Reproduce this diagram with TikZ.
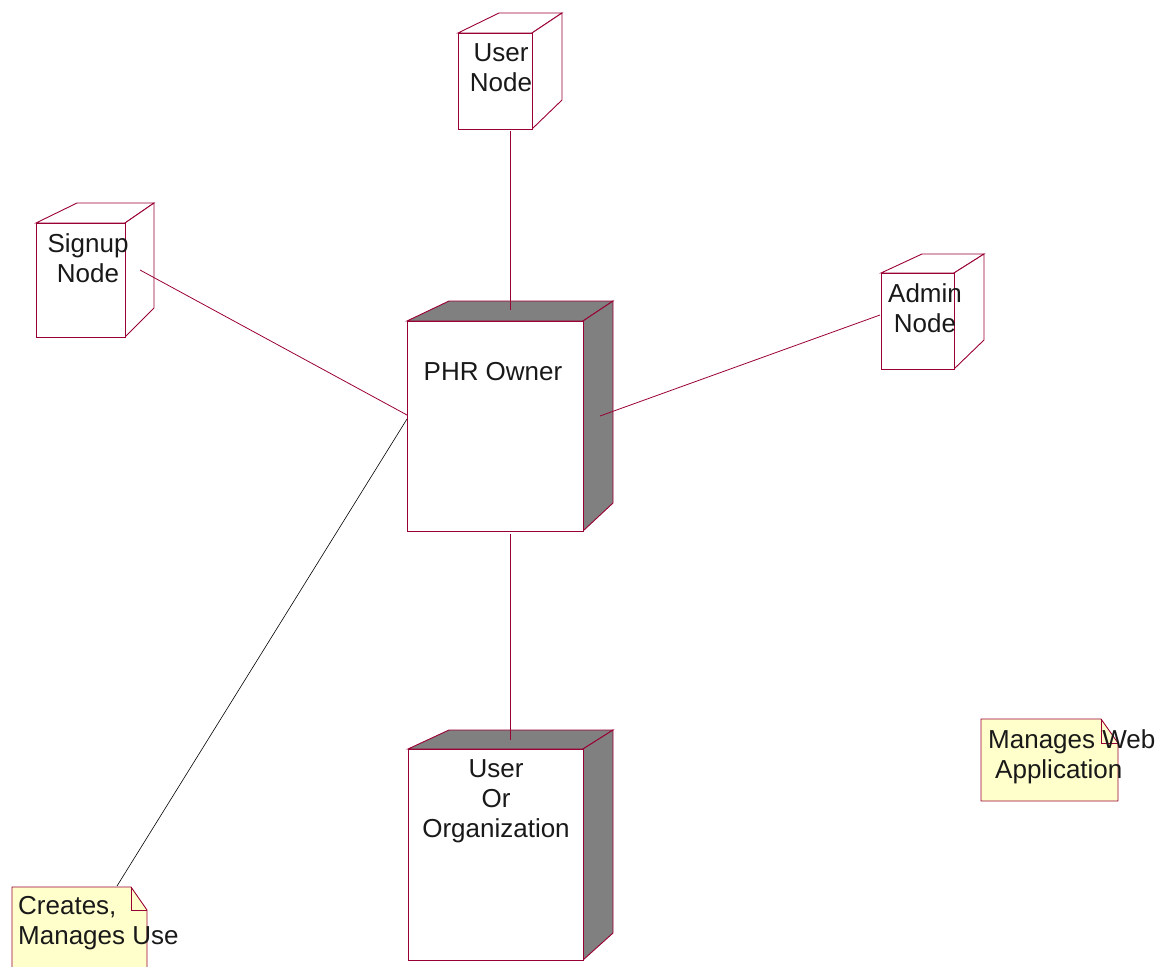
\documentclass[tikz,border=0pt]{standalone}
\usepackage{fontspec}
\setmainfont{Liberation Sans}
\definecolor{roseline}{RGB}{153,0,51}
\definecolor{notefill}{RGB}{255,255,204}
\definecolor{boxshade}{RGB}{128,128,128}
\definecolor{textgray}{RGB}{25,25,25}
\tikzset{
  boxline/.style={draw=roseline, line width=0.9pt, line join=miter},
  frontface/.style={draw=roseline, fill=white, line width=0.9pt, inner sep=0pt, anchor=north west},
  nodetext/.style={font=\fontsize{26}{30}\selectfont, text=textgray, align=center, inner sep=0pt},
  notetext/.style={font=\fontsize{26}{30}\selectfont, text=textgray, align=left, inner sep=0pt, anchor=north west},
  link/.style={draw=roseline, line width=0.8pt},
}
\begin{document}
\begin{tikzpicture}[x=1pt, y=-1pt]
  \useasboundingbox (0,0) rectangle (1164,966);

  % User Node
  \draw[boxline, fill=white] (458,33) -- (499,13) -- (562,13) -- (532,33) -- cycle;
  \draw[boxline, fill=white] (532,33) -- (562,13) -- (562,100) -- (532,129) -- cycle;
  \node[frontface, minimum width=74, minimum height=96] (usernode) at (458,33) {};
  \node[nodetext] (usernodetext) at (501,68) {User\\Node};

  % Signup Node
  \draw[boxline, fill=white] (36,223) -- (77,203) -- (154,203) -- (125,223) -- cycle;
  \draw[boxline, fill=white] (125,223) -- (154,203) -- (154,308) -- (125,337) -- cycle;
  \node[frontface, minimum width=89, minimum height=114] (signup) at (36,223) {};
  \node[nodetext] (signuptext) at (88,258) {Signup\\Node};

  % Admin Node
  \draw[boxline, fill=white] (881,273) -- (922,254) -- (984,254) -- (954,273) -- cycle;
  \draw[boxline, fill=white] (954,273) -- (984,254) -- (984,340) -- (954,369) -- cycle;
  \node[frontface, minimum width=73, minimum height=96] (admin) at (881,273) {};
  \node[nodetext] (admintext) at (925,308) {Admin\\Node};

  % PHR Owner
  \draw[boxline, fill=boxshade] (407,321) -- (449,301) -- (613,301) -- (583,321) -- cycle;
  \draw[boxline, fill=boxshade] (583,321) -- (613,301) -- (613,503) -- (583,531) -- cycle;
  \node[frontface, minimum width=176, minimum height=210] (phr) at (407,321) {};
  \node[nodetext] (phrtext) at (493,372) {PHR Owner};

  % User Or Organization
  \draw[boxline, fill=boxshade] (408,749) -- (449,730) -- (613,730) -- (583,749) -- cycle;
  \draw[boxline, fill=boxshade] (583,749) -- (613,730) -- (613,933) -- (583,960) -- cycle;
  \node[frontface, minimum width=175, minimum height=211] (userorg) at (408,749) {};
  \node[nodetext] (userorgtext) at (496,801) {User\\Or\\Organization};

  % notes
  \draw[boxline, fill=notefill] (981,719) -- (1101,719) -- (1118,743) -- (1118,801) -- (981,801) -- cycle;
  \draw[boxline] (1101,719) -- (1101,743) -- (1118,743);
  \node[notetext] (webnote) at (988,729) {Manages Web\\\hspace*{7pt}Application};

  \draw[boxline, fill=notefill] (12,887) -- (131,887) -- (147,910) -- (147,980) -- (12,980) -- cycle;
  \draw[boxline] (131,887) -- (131,910) -- (147,910);
  \node[notetext] (usernote) at (18,896) {Creates,\\Manages Use};

  % attach points
  \coordinate (usernodeport) at (510,131);
  \coordinate (phrtopport) at (510,310);
  \coordinate (signupport) at (140,270);
  \coordinate (phrleftport) at (407,415);
  \coordinate (adminport) at (880,315);
  \coordinate (phrsideport) at (600,416);
  \coordinate (phrbottomport) at (510,534);
  \coordinate (userorgport) at (510,740);
  \coordinate (phrnoteport) at (407,419);
  \coordinate (usernoteport) at (117,886);

  % links
  \draw[link] (usernodeport) -- (phrtopport);
  \draw[link] (signupport) -- (phrleftport);
  \draw[link] (adminport) -- (phrsideport);
  \draw[link] (phrbottomport) -- (userorgport);
  \draw[black, line width=0.6pt] (phrnoteport) -- (usernoteport);
\end{tikzpicture}
\end{document}
